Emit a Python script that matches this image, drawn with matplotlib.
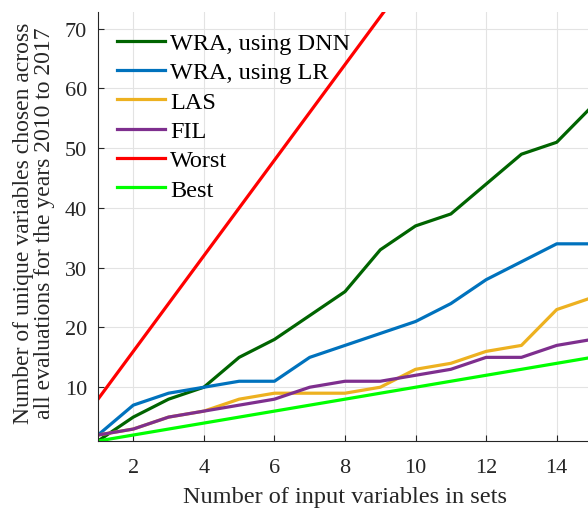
import matplotlib.pyplot as plt
import numpy as np

plt.rcParams['font.family'] = ['Liberation Serif', 'DejaVu Serif']

n_vars = [1, 2, 3, 4, 5, 6, 7, 8, 9, 10, 11, 12, 13, 14, 15]
wra_dnn = [1, 5, 8, 10, 15, 18, 22, 26, 33, 37, 39, 44, 49, 51, 57]
wra_lr = [2, 7, 9, 10, 11, 11, 15, 17, 19, 21, 24, 28, 31, 34, 34]
las = [2, 3, 5, 6, 8, 9, 9, 9, 10, 13, 14, 16, 17, 23, 25]
fil = [2, 3, 5, 6, 7, 8, 10, 11, 11, 12, 13, 15, 15, 17, 18]
worst = [8, 16, 24, 32, 40, 48, 56, 64, 72, 80, 88, 96, 104, 112, 120]
best = [1, 2, 3, 4, 5, 6, 7, 8, 9, 10, 11, 12, 13, 14, 15]

fig = plt.figure(figsize=(5.88, 5.10), dpi=100)
# axes runs a little past the right edge, like the cropped original
ax = fig.add_axes([98 / 588, 68 / 510, 494 / 588, 429 / 510])

lw = 2.3
ax.plot(n_vars, wra_dnn, color='#006400', lw=lw, label='WRA, using DNN')
ax.plot(n_vars, wra_lr, color='#0072BD', lw=lw, label='WRA, using LR')
ax.plot(n_vars, las, color='#EDB120', lw=lw, label='LAS')
ax.plot(n_vars, fil, color='#7E2F8E', lw=lw, label='FIL')
ax.plot(n_vars, worst, color='#FF0000', lw=lw, label='Worst')
ax.plot(n_vars, best, color='#00FF00', lw=lw, label='Best')

ax.set_xlim(1, 15)
ax.set_ylim(1, 72.8)
ax.set_xticks([2, 4, 6, 8, 10, 12, 14])
ax.set_yticks([10, 20, 30, 40, 50, 60, 70])
ax.grid(True, color='#e3e3e3', lw=0.8)
ax.set_axisbelow(True)
ax.tick_params(direction='in', labelsize=16, colors='#262626', length=4)
ax.tick_params(axis='x', pad=12)
ax.tick_params(axis='y', pad=8)
for s in ['top', 'right']:
    ax.spines[s].set_visible(False)
for s in ['left', 'bottom']:
    ax.spines[s].set_color('#262626')
    ax.spines[s].set_linewidth(0.8)

ax.set_xlabel('Number of input variables in sets', fontsize=17.5, color='#262626')
ax.set_ylabel('Number of unique variables chosen across\nall evaluations for the years 2010 to 2017',
              fontsize=17, color='#262626', linespacing=1.0)
ax.xaxis.set_label_coords(247 / 494, -0.105)
ax.yaxis.set_label_coords(-0.087, 0.51)

ax.legend(loc='upper left', frameon=False, fontsize=17.5, handlelength=2.0,
          handletextpad=0.2, labelspacing=0.3, borderaxespad=0, borderpad=0,
          bbox_to_anchor=(0.038, 0.953))

fig.savefig('out.png', dpi=100)
